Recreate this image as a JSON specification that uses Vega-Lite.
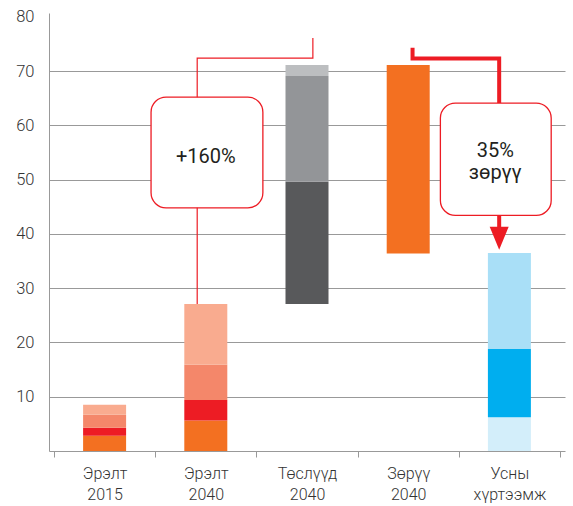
{
  "$schema": "https://vega.github.io/schema/vega-lite/v6.json",
  "width": 516,
  "height": 438,
  "autosize": {"type": "none"},
  "padding": {"left": 49, "top": 13, "right": 8, "bottom": 55},
  "background": "white",
  "config": {
    "view": {"stroke": null},
    "font": "Roboto",
    "axis": {"labelFont": "Roboto", "labelFontWeight": 300}
  },
  "datasets": {
    "bars": [
      {"cat": 0.5, "seg": "Эрэлт 2015 a", "y0": 0, "y1": 2.8},
      {"cat": 0.5, "seg": "Эрэлт 2015 b", "y0": 2.8, "y1": 4.3},
      {"cat": 0.5, "seg": "Эрэлт 2015 c", "y0": 4.3, "y1": 6.7},
      {"cat": 0.5, "seg": "Эрэлт 2015 d", "y0": 6.7, "y1": 8.5},
      {"cat": 1.5, "seg": "Эрэлт 2015 a", "y0": 0, "y1": 5.6},
      {"cat": 1.5, "seg": "Эрэлт 2015 b", "y0": 5.6, "y1": 9.4},
      {"cat": 1.5, "seg": "Эрэлт 2015 c", "y0": 9.4, "y1": 15.9},
      {"cat": 1.5, "seg": "Эрэлт 2015 d", "y0": 15.9, "y1": 27.1},
      {"cat": 2.5, "seg": "Төслүүд a", "y0": 27.1, "y1": 49.6},
      {"cat": 2.5, "seg": "Төслүүд b", "y0": 49.6, "y1": 69.1},
      {"cat": 2.5, "seg": "Төслүүд c", "y0": 69.1, "y1": 71.1},
      {"cat": 3.5, "seg": "Зөрүү", "y0": 36.4, "y1": 71.1},
      {"cat": 4.5, "seg": "Усны a", "y0": 0, "y1": 6.2},
      {"cat": 4.5, "seg": "Усны b", "y0": 6.2, "y1": 18.8},
      {"cat": 4.5, "seg": "Усны c", "y0": 18.8, "y1": 36.5}
    ],
    "lines": [
      {"id": "thin", "seq": 1, "x": 1.415, "y": 27.1},
      {"id": "thin", "seq": 2, "x": 1.415, "y": 72.4},
      {"id": "thin", "seq": 3, "x": 2.558, "y": 72.4},
      {"id": "thin", "seq": 4, "x": 2.558, "y": 76.1},
      {"id": "thick", "seq": 1, "x": 3.543, "y": 74.3},
      {"id": "thick", "seq": 2, "x": 3.543, "y": 72.3},
      {"id": "thick", "seq": 3, "x": 4.399, "y": 72.3},
      {"id": "thick", "seq": 4, "x": 4.399, "y": 40.5}
    ],
    "boxes": [
      {"x0": 0.959, "x1": 2.064, "y0": 44.8, "y1": 65.2},
      {"x0": 3.818, "x1": 4.913, "y0": 43.4, "y1": 64.1}
    ],
    "texts": [
      {"tx": 1.5, "ty": 54.2, "label": "+160%"},
      {"tx": 4.36, "ty": 55.3, "label": "35%"},
      {"tx": 4.36, "ty": 51.2, "label": "зөрүү"}
    ],
    "arrows": [
      {"x": 4.399, "y": 39.2}
    ]
  },
  "layer": [
    {
      "data": {"name": "bars"},
      "mark": {"type": "bar", "size": 43},
      "encoding": {
        "x": {
          "field": "cat",
          "type": "quantitative",
          "scale": {"domain": [0, 5], "nice": false, "zero": false},
          "axis": {
            "title": null,
            "values": [0, 0.5, 1, 1.5, 2, 2.5, 3, 3.5, 4, 4.5, 5],
            "labelExpr": "datum.value == 0.5 ? ['Эрэлт','2015'] : datum.value == 1.5 ? ['Эрэлт','2040'] : datum.value == 2.5 ? ['Төслүүд','2040'] : datum.value == 3.5 ? ['Зөрүү','2040'] : datum.value == 4.5 ? ['Усны','хүртээмж'] : ''",
            "labelFontSize": 16,
            "labelColor": "#333333",
            "labelLineHeight": 21,
            "labelPadding": 8,
            "labelFlush": false,
            "labelOverlap": false,
            "labelBaseline": "top",
            "tickSize": 6,
            "tickColor": "#999999",
            "tickOpacity": {"condition": {"test": "datum.value % 1 === 0", "value": 1}, "value": 0},
            "domainColor": "#999999",
            "domainWidth": 1,
            "grid": false
          }
        },
        "y": {
          "field": "y0",
          "type": "quantitative",
          "scale": {"domain": [0, 80.7], "nice": false},
          "axis": {
            "title": null,
            "values": [10, 20, 30, 40, 50, 60, 70, 80],
            "ticks": false,
            "labelPadding": 15,
            "labelFontSize": 16.5,
            "labelColor": "#333333",
            "domainColor": "#999999",
            "grid": true,
            "gridColor": "#999999",
            "gridWidth": 1,
            "gridOpacity": {"condition": {"test": "datum.value < 80", "value": 1}, "value": 0}
          }
        },
        "y2": {"field": "y1"},
        "color": {
          "field": "seg",
          "type": "nominal",
          "legend": null,
          "scale": {
            "domain": ["Эрэлт 2015 a", "Эрэлт 2015 b", "Эрэлт 2015 c", "Эрэлт 2015 d", "Төслүүд a", "Төслүүд b", "Төслүүд c", "Зөрүү", "Усны a", "Усны b", "Усны c"],
            "range": ["#F37021", "#ED1C24", "#F4876A", "#F9AB8F", "#58595B", "#939598", "#BCBEC0", "#F37021", "#D3EEFA", "#00AEEF", "#A9DFF7"]
          }
        }
      }
    },
    {
      "data": {"name": "lines"},
      "transform": [{"filter": "datum.id === 'thin'"}],
      "mark": {"type": "line", "color": "#ED1C24", "strokeWidth": 1.2, "strokeJoin": "miter", "strokeCap": "butt"},
      "encoding": {
        "x": {"field": "x", "type": "quantitative"},
        "y": {"field": "y", "type": "quantitative"},
        "order": {"field": "seq"}
      }
    },
    {
      "data": {"name": "lines"},
      "transform": [{"filter": "datum.id === 'thick'"}],
      "mark": {"type": "line", "color": "#ED1C24", "strokeWidth": 4, "strokeJoin": "miter", "strokeCap": "butt"},
      "encoding": {
        "x": {"field": "x", "type": "quantitative"},
        "y": {"field": "y", "type": "quantitative"},
        "order": {"field": "seq"}
      }
    },
    {
      "data": {"name": "boxes"},
      "mark": {"type": "rect", "fill": "white", "stroke": "#ED1C24", "strokeWidth": 1.3, "cornerRadius": 15},
      "encoding": {
        "x": {"field": "x0", "type": "quantitative"},
        "x2": {"field": "x1"},
        "y": {"field": "y0", "type": "quantitative"},
        "y2": {"field": "y1"}
      }
    },
    {
      "data": {"name": "texts"},
      "mark": {"type": "text", "fontSize": 20, "font": "Roboto", "fontWeight": 400, "color": "#231F20", "align": "center", "baseline": "middle"},
      "encoding": {
        "x": {"field": "tx", "type": "quantitative"},
        "y": {"field": "ty", "type": "quantitative"},
        "text": {"field": "label"}
      }
    },
    {
      "data": {"name": "arrows"},
      "mark": {"type": "point", "shape": "M-1,-1.2L1,-1.2L0,1.2Z", "filled": true, "color": "#ED1C24", "opacity": 1, "size": 361, "strokeWidth": 0},
      "encoding": {
        "x": {"field": "x", "type": "quantitative"},
        "y": {"field": "y", "type": "quantitative"}
      }
    }
  ]
}
